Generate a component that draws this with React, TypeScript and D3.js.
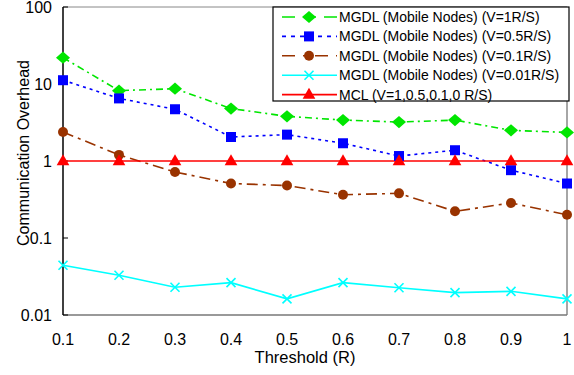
import React from "react";
import * as d3 from "d3";

const thresholds = [0.1, 0.2, 0.3, 0.4, 0.5, 0.6, 0.7, 0.8, 0.9, 1.0];
const xTickLabels = ["0.1", "0.2", "0.3", "0.4", "0.5", "0.6", "0.7", "0.8", "0.9", "1"];
const yTickValues = [0.01, 0.1, 1, 10, 100];
const yTickLabels = ["0.01", "0.1", "1", "10", "100"];

const mgdlV1 = [22, 8.2, 8.7, 4.8, 3.8, 3.4, 3.2, 3.4, 2.5, 2.35];
const mgdlV05 = [11.2, 6.5, 4.7, 2.05, 2.2, 1.7, 1.16, 1.38, 0.76, 0.51];
const mgdlV01 = [2.38, 1.2, 0.72, 0.51, 0.48, 0.365, 0.38, 0.222, 0.285, 0.2];
const mgdlV001 = [0.0442, 0.0328, 0.0229, 0.0263, 0.0162, 0.0263, 0.0226, 0.0195, 0.0203, 0.0162];
const mcl = [1, 1, 1, 1, 1, 1, 1, 1, 1, 1];

const seriesNames = [
  "MGDL (Mobile Nodes) (V=1R/S)",
  "MGDL (Mobile Nodes) (V=0.5R/S)",
  "MGDL (Mobile Nodes) (V=0.1R/S)",
  "MGDL (Mobile Nodes) (V=0.01R/S)",
  "MCL (V=1,0.5,0.1,0 R/S)",
];

type Style = { color: string; dash: string | null; marker: string };
const styles: Style[] = [
  { color: "#00e600", dash: "7,4,2,4", marker: "diamond" },
  { color: "#0000ff", dash: "3,4", marker: "square" },
  { color: "#993300", dash: "11,5,3,5", marker: "circle" },
  { color: "#00ffff", dash: null, marker: "x" },
  { color: "#ff0000", dash: null, marker: "triangle" },
];

const allSeries = [mgdlV1, mgdlV05, mgdlV01, mgdlV001, mcl];

const W = 574, H = 375;
const left = 63, right = 567, top = 7, bottom = 315;
const FONT = "'Liberation Sans', Arial, sans-serif";

function Marker({ type, x, y, color }: { type: string; x: number; y: number; color: string }) {
  if (type === "diamond") {
    const p = d3.symbol().type(d3.symbolDiamond2).size(95)()!;
    return <path d={p} transform={`translate(${x},${y}) scale(1.15,1)`} fill={color} />;
  }
  if (type === "square") {
    return <rect x={x - 5} y={y - 5} width={10} height={10} fill={color} />;
  }
  if (type === "circle") {
    return <circle cx={x} cy={y} r={5} fill={color} />;
  }
  if (type === "triangle") {
    const p = d3.symbol().type(d3.symbolTriangle).size(70)()!;
    return <path d={p} transform={`translate(${x},${y + 0.5})`} fill={color} />;
  }
  const s = 4.5;
  return (
    <path
      d={`M${x - s},${y - s}L${x + s},${y + s}M${x - s},${y + s}L${x + s},${y - s}`}
      stroke={color}
      strokeWidth={1.6}
      fill="none"
    />
  );
}

export default function App() {
  const x = d3.scaleLinear().domain([0.1, 1]).range([left, right]);
  const y = d3.scaleLog().domain([0.01, 100]).range([bottom, top]);
  const line = d3
    .line<number>()
    .x((_, i) => x(thresholds[i]))
    .y((d) => y(d));

  const legX = 273, legY = 7, legW = 296, legH = 94;
  const rowY = (i: number) => 17 + i * 19.4;

  return (
    <svg width={W} height={H} style={{ position: "absolute", left: 0, top: 0, background: "#fff" }}>
      <rect x={0} y={0} width={W} height={H} fill="#fff" />
      {/* plot frame */}
      <line x1={left} x2={right} y1={top} y2={top} stroke="#888" strokeWidth={1} />
      <line x1={right} x2={right} y1={top} y2={bottom} stroke="#888" strokeWidth={1.5} />
      <line x1={left} x2={right} y1={bottom} y2={bottom} stroke="#777" strokeWidth={1.5} />
      <line x1={left} x2={left} y1={top} y2={bottom} stroke="#000" strokeWidth={1.5} />
      {yTickValues.map((v, i) => (
        <g key={i}>
          <line x1={left} x2={left + 5} y1={y(v)} y2={y(v)} stroke="#000" strokeWidth={1} />
          <text
            x={left - 11}
            y={y(v) + 5.8}
            textAnchor="end"
            fontFamily={FONT}
            fontSize={16}
            fill="#000"
          >
            {yTickLabels[i]}
          </text>
        </g>
      ))}
      {thresholds.map((t, i) => (
        <text key={i} x={x(t)} y={345} textAnchor="middle" fontFamily={FONT} fontSize={16} fill="#000">
          {xTickLabels[i]}
        </text>
      ))}
      <text x={305} y={363} textAnchor="middle" fontFamily={FONT} fontSize={16.5} fill="#000">
        Threshold (R)
      </text>
      <text
        transform={`translate(29,${153}) rotate(-90)`}
        textAnchor="middle"
        fontFamily={FONT}
        fontSize={16}
        fill="#000"
      >
        Communication Overhead
      </text>
      {/* series */}
      {allSeries.map((s, k) => (
        <g key={k}>
          <path
            d={line(s)!}
            fill="none"
            stroke={styles[k].color}
            strokeWidth={1.6}
            strokeDasharray={styles[k].dash ?? undefined}
          />
        </g>
      ))}
      {allSeries.map((s, k) => (
        <g key={"m" + k}>
          {s.map((v, i) => (
            <Marker key={i} type={styles[k].marker} x={x(thresholds[i])} y={y(v)} color={styles[k].color} />
          ))}
        </g>
      ))}
      {/* legend */}
      <rect x={legX} y={legY} width={legW} height={legH} fill="#fff" stroke="#000" strokeWidth={1.2} />
      {seriesNames.map((n, i) => (
        <g key={i}>
          <line
            x1={282}
            x2={337}
            y1={rowY(i)}
            y2={rowY(i)}
            stroke={styles[i].color}
            strokeWidth={1.6}
            strokeDasharray={
              i === 0 ? "13,8" : i === 1 ? "4,5" : i === 2 ? "13,8,4,8" : undefined
            }
          />
          <Marker type={styles[i].marker} x={309} y={rowY(i)} color={styles[i].color} />
          <text x={339} y={rowY(i) + 5} fontFamily={FONT} fontSize={14} fill="#000">
            {n}
          </text>
        </g>
      ))}
    </svg>
  );
}
